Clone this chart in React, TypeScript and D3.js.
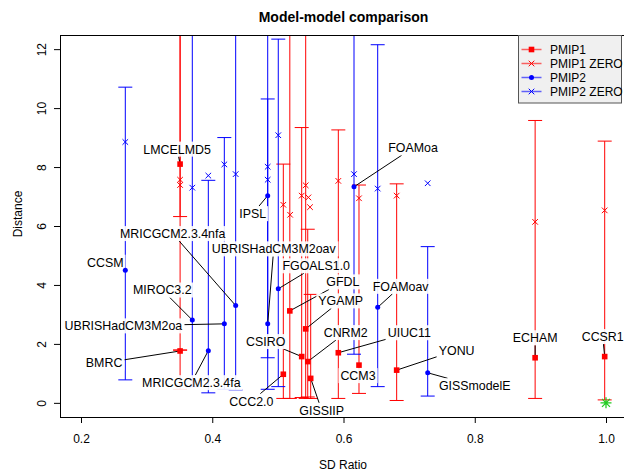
import React, { useEffect, useRef } from "react";
import * as d3 from "d3";

const W = 624;
const H = 475;
const FONT = "'Liberation Sans', Arial, Helvetica, sans-serif";
const RED = "#FF0000";
const BLUE = "#0000FF";
const GREEN = "#22CC22";

// ---------- data ----------
type Pt = { name?: string; x: number; y: number; lo?: number; hi?: number };

const PMIP1: Pt[] = [
  { name: "LMCELMD5", x: 0.351, y: 8.1, lo: 6.32, hi: 14 },
  { name: "BMRC", x: 0.351, y: 1.76, lo: 0.46, hi: 1.79 },
  { name: "CCC2.0", x: 0.5083, y: 0.97, lo: 0.15, hi: 8.1 },
  { name: "GFDL", x: 0.5182, y: 3.12, lo: 0.15, hi: 14 },
  { name: "CSIRO", x: 0.5363, y: 1.57, lo: 0.18, hi: 9.34 },
  { name: "YGAMP", x: 0.5424, y: 2.51, lo: 0.15, hi: 14 },
  { name: "CNRM2", x: 0.5455, y: 1.4, lo: 0.2, hi: 5.89 },
  { name: "GISSIIP", x: 0.55, y: 0.83, lo: 0.15, hi: 3.68 },
  { name: "UIUC11", x: 0.5921, y: 1.7, lo: 0.15, hi: 9.26 },
  { name: "CCM3", x: 0.6236, y: 1.28, lo: 0.32, hi: 7.39 },
  { name: "YONU", x: 0.681, y: 1.11, lo: 0.08, hi: 7.43 },
  { name: "ECHAM", x: 0.892, y: 1.53, lo: 0.15, hi: 9.58 },
  { name: "CCSR1", x: 0.998, y: 1.57, lo: 0.1, hi: 8.88 },
];

const PMIP1_ZERO: Pt[] = [
  { x: 0.351, y: 7.57, lo: 1.79, hi: 14 },
  { x: 0.351, y: 7.39 },
  { x: 0.5083, y: 6.72 },
  { x: 0.5187, y: 6.38 },
  { x: 0.5424, y: 7.38 },
  { x: 0.5363, y: 7.03 },
  { x: 0.5465, y: 6.97 },
  { x: 0.549, y: 6.64 },
  { x: 0.5921, y: 7.53 },
  { x: 0.6236, y: 6.94 },
  { x: 0.681, y: 7.03 },
  { x: 0.892, y: 6.14 },
  { x: 0.998, y: 6.53 },
];

const PMIP2: Pt[] = [
  { name: "CCSM", x: 0.2675, y: 4.5, lo: 0.78, hi: 10.71 },
  { name: "MIROC3.2", x: 0.3696, y: 2.81, lo: 0.55, hi: 14 },
  { name: "MRICGCM2.3.4fa", x: 0.394, y: 1.77, lo: 0.34, hi: 7.55 },
  { name: "UBRISHadCM3M2oa", x: 0.4184, y: 2.68, lo: 0.46, hi: 9.0 },
  { name: "MRICGCM2.3.4nfa", x: 0.4357, y: 3.3, lo: 0.44, hi: 14 },
  { name: "IPSL", x: 0.4845, y: 7.03, lo: 1.53, hi: 10.31 },
  { name: "UBRISHadCM3M2oav", x: 0.4845, y: 2.68, lo: 0.46, hi: 14 },
  { name: "FGOALS1.0", x: 0.5006, y: 3.87, lo: 0.55, hi: 12.34 },
  { name: "FOAMoa", x: 0.616, y: 7.33, lo: 1.65, hi: 14 },
  { name: "FOAMoav", x: 0.6521, y: 3.24, lo: 0.55, hi: 12.15 },
  { name: "GISSmodelE", x: 0.7283, y: 1.02, lo: 0.23, hi: 5.3 },
];

const PMIP2_ZERO: Pt[] = [
  { x: 0.2675, y: 8.85 },
  { x: 0.3696, y: 7.3 },
  { x: 0.394, y: 7.71 },
  { x: 0.4184, y: 8.09 },
  { x: 0.4357, y: 7.76 },
  { x: 0.4845, y: 8.01 },
  { x: 0.4845, y: 7.57 },
  { x: 0.5006, y: 9.08 },
  { x: 0.616, y: 7.76 },
  { x: 0.6521, y: 7.27 },
  { x: 0.7283, y: 7.45 },
];

const REFERENCE = [{ x: 1.0, y: 0 }];

const X_TICKS = [0.2, 0.4, 0.6, 0.8, 1.0];
const Y_TICKS = [0, 2, 4, 6, 8, 10, 12];
const LEGEND_LABELS = ["PMIP1", "PMIP1 ZERO", "PMIP2", "PMIP2 ZERO"];

// label placement (pixel offsets from the point to label centre)
const LABEL_OFFSET: Record<string, [number, number]> = {
  LMCELMD5: [-3, -15],
  BMRC: [-76, 12],
  "CCC2.0": [-32, 27],
  GFDL: [53, -29],
  CSIRO: [-36, -15],
  YGAMP: [35, -28],
  CNRM2: [38, -29],
  GISSIIP: [11, 32],
  UIUC11: [71, -20],
  CCM3: [-1, 10.5],
  YONU: [60, -20],
  ECHAM: [0, -20],
  CCSR1: [-2, -20],
  CCSM: [-20, -8],
  "MIROC3.2": [-30, -30],
  "MRICGCM2.3.4fa": [-17, 32],
  UBRISHadCM3M2oa: [-101, 2],
  "MRICGCM2.3.4nfa": [-63, -72],
  IPSL: [-15, 18],
  UBRISHadCM3M2oav: [6, -75],
  "FGOALS1.0": [38, -23],
  FOAMoa: [59, -39],
  FOAMoav: [23, -21],
  GISSmodelE: [47, 13],
};

export default function App() {
  const ref = useRef<SVGSVGElement>(null);

  useEffect(() => {
    const svg = d3.select(ref.current);
    svg.selectAll("*").remove();

    const L = 60, R = 627, T = 35, B = 417;
    const x = d3.scaleLinear().domain([0.168, 1.032]).range([L, R]);
    const y = d3.scaleLinear().domain([-0.48, 12.48]).range([B, T]);

    svg.append("rect").attr("width", W).attr("height", H).attr("fill", "white");

    svg.append("defs").append("clipPath").attr("id", "plotclip")
      .append("rect").attr("x", L).attr("y", T).attr("width", R - L).attr("height", B - T);

    // title
    svg.append("text").attr("x", (L + R) / 2).attr("y", 22)
      .attr("text-anchor", "middle").attr("font-family", FONT)
      .attr("font-weight", "bold").attr("font-size", 14).text("Model-model comparison");

    // axes
    const xAxis = svg.append("g").attr("transform", `translate(0,${B})`)
      .call(d3.axisBottom(x).tickValues(X_TICKS).tickSize(6).tickPadding(11)
        .tickFormat((d: any) => d3.format(".1f")(d)));
    xAxis.select(".domain").remove();
    xAxis.selectAll("text").attr("font-family", FONT).attr("font-size", 12).attr("fill", "#000");

    const yAxis = svg.append("g").attr("transform", `translate(${L},0)`)
      .call(d3.axisLeft(y).tickValues(Y_TICKS).tickSize(6).tickFormat((d: any) => String(d)));
    yAxis.select(".domain").remove();
    yAxis.selectAll("text")
      .attr("x", null).attr("dy", null)
      .attr("text-anchor", "middle")
      .attr("transform", "translate(-14.5,0) rotate(-90)")
      .attr("font-family", FONT).attr("font-size", 12).attr("fill", "#000");

    svg.append("text").attr("x", (L + 626) / 2).attr("y", 469)
      .attr("text-anchor", "middle").attr("font-family", FONT).attr("font-size", 12).text("SD Ratio");
    svg.append("text").attr("transform", `translate(22,214) rotate(-90)`)
      .attr("text-anchor", "middle").attr("font-family", FONT).attr("font-size", 12).text("Distance");

    // error bars
    const bars = svg.append("g").attr("clip-path", "url(#plotclip)");
    const drawBars = (data: Pt[], color: string) => {
      data.forEach((d) => {
        if (d.lo == null || d.hi == null) return;
        const px = x(d.x);
        bars.append("line").attr("x1", px).attr("x2", px).attr("y1", y(d.lo)).attr("y2", y(d.hi))
          .attr("stroke", color).attr("stroke-width", 1);
        [d.lo, d.hi].forEach((v) => {
          bars.append("line").attr("x1", px - 7).attr("x2", px + 7).attr("y1", y(v)).attr("y2", y(v))
            .attr("stroke", color).attr("stroke-width", 1);
        });
      });
    };
    drawBars(PMIP1, RED);
    drawBars(PMIP1_ZERO, RED);
    drawBars(PMIP2, BLUE);
    drawBars(PMIP2_ZERO, BLUE);

    // labels: compute boxes
    const labelled = [...PMIP1.map((d) => ({ ...d })), ...PMIP2.map((d) => ({ ...d }))];
    const leaderG = svg.append("g");
    const boxG = svg.append("g");
    const pointG = svg.append("g");
    const textG = svg.append("g");

    labelled.forEach((d) => {
      const off = LABEL_OFFSET[d.name as string] || [0, -15];
      const px = x(d.x), py = y(d.y);
      const cx = px + off[0], cy = py + off[1];
      const t = textG.append("text").attr("x", cx).attr("y", cy).attr("dy", "0.36em")
        .attr("text-anchor", "middle").attr("font-family", FONT).attr("font-size", 12.4)
        .attr("fill", "#000").text(d.name as string);
      const bb = (t.node() as SVGTextElement).getBBox();
      const bx0 = bb.x - 2, bx1 = bb.x + bb.width + 2, by0 = cy - 7.5, by1 = cy + 7.5;
      boxG.append("rect").attr("x", bx0).attr("y", by0).attr("width", bx1 - bx0).attr("height", by1 - by0)
        .attr("fill", "white").attr("fill-opacity", 0.9);
      // leader line from point to box edge
      const dx = cx - px, dy = cy - py;
      let tx = 0, ty = 0;
      if (px < bx0) tx = (bx0 - px) / dx; else if (px > bx1) tx = (bx1 - px) / dx;
      if (py < by0) ty = (by0 - py) / dy; else if (py > by1) ty = (by1 - py) / dy;
      const tt = Math.max(tx, ty);
      const ex = px + tt * dx, ey = py + tt * dy;
      if (Math.hypot(ex - px, ey - py) > 6) {
        leaderG.append("line").attr("x1", px).attr("y1", py).attr("x2", ex).attr("y2", ey)
          .attr("stroke", "#000").attr("stroke-width", 1);
      }
    });

    // points
    const square = (cx: number, cy: number, color: string) =>
      pointG.append("rect").attr("x", cx - 2.8).attr("y", cy - 2.8).attr("width", 5.6).attr("height", 5.6).attr("fill", color);
    const dot = (cx: number, cy: number, color: string) =>
      pointG.append("circle").attr("cx", cx).attr("cy", cy).attr("r", 2.5).attr("fill", color);
    const cross = (cx: number, cy: number, color: string, s = 2.8) =>
      pointG.append("path").attr("d", `M${cx - s},${cy - s}L${cx + s},${cy + s}M${cx - s},${cy + s}L${cx + s},${cy - s}`)
        .attr("stroke", color).attr("stroke-width", 1).attr("fill", "none");
    const star = (cx: number, cy: number, color: string) => {
      const s = 5.5, q = 4;
      pointG.append("path").attr("d",
        `M${cx - s},${cy}L${cx + s},${cy}M${cx},${cy - s}L${cx},${cy + s}M${cx - q},${cy - q}L${cx + q},${cy + q}M${cx - q},${cy + q}L${cx + q},${cy - q}`)
        .attr("stroke", color).attr("stroke-width", 1.3).attr("fill", "none");
    };

    PMIP1_ZERO.forEach((d) => cross(x(d.x), y(d.y), RED));
    PMIP2_ZERO.forEach((d) => cross(x(d.x), y(d.y), BLUE));
    PMIP1.forEach((d) => square(x(d.x), y(d.y), RED));
    PMIP2.forEach((d) => dot(x(d.x), y(d.y), BLUE));
    REFERENCE.forEach((d) => star(x(d.x), y(d.y), GREEN));

    // plot box
    svg.append("rect").attr("x", L + 0.5).attr("y", T + 0.5).attr("width", R - L).attr("height", B - T)
      .attr("fill", "none").attr("stroke", "#000").attr("stroke-width", 1);

    // legend
    const lg = svg.append("g");
    lg.append("rect").attr("x", 518.5).attr("y", 35.5).attr("width", 103).attr("height", 67.5)
      .attr("fill", "#f0f0f0").attr("stroke", "#555").attr("stroke-width", 1);
    const legColors = [RED, RED, BLUE, BLUE];
    LEGEND_LABELS.forEach((lab, i) => {
      const ly = 49.5 + i * 14;
      lg.append("line").attr("x1", 521.5).attr("x2", 541.5).attr("y1", ly).attr("y2", ly)
        .attr("stroke", legColors[i]).attr("stroke-opacity", 0.6).attr("stroke-width", 1.5);
      const mx = 531.5;
      if (i === 0) lg.append("rect").attr("x", mx - 2.8).attr("y", ly - 2.8).attr("width", 5.6).attr("height", 5.6).attr("fill", RED);
      else if (i === 2) lg.append("circle").attr("cx", mx).attr("cy", ly).attr("r", 2.5).attr("fill", BLUE);
      else lg.append("path").attr("d", `M${mx - 2.8},${ly - 2.8}L${mx + 2.8},${ly + 2.8}M${mx - 2.8},${ly + 2.8}L${mx + 2.8},${ly - 2.8}`)
        .attr("stroke", legColors[i]).attr("fill", "none");
      lg.append("text").attr("x", 550).attr("y", ly + 4.3).attr("font-family", FONT).attr("font-size", 12)
        .attr("fill", "#000").text(lab);
    });
  }, []);

  return (
    <svg ref={ref} width={W} height={H}
      style={{ position: "absolute", left: 0, top: 0, display: "block" }} />
  );
}
